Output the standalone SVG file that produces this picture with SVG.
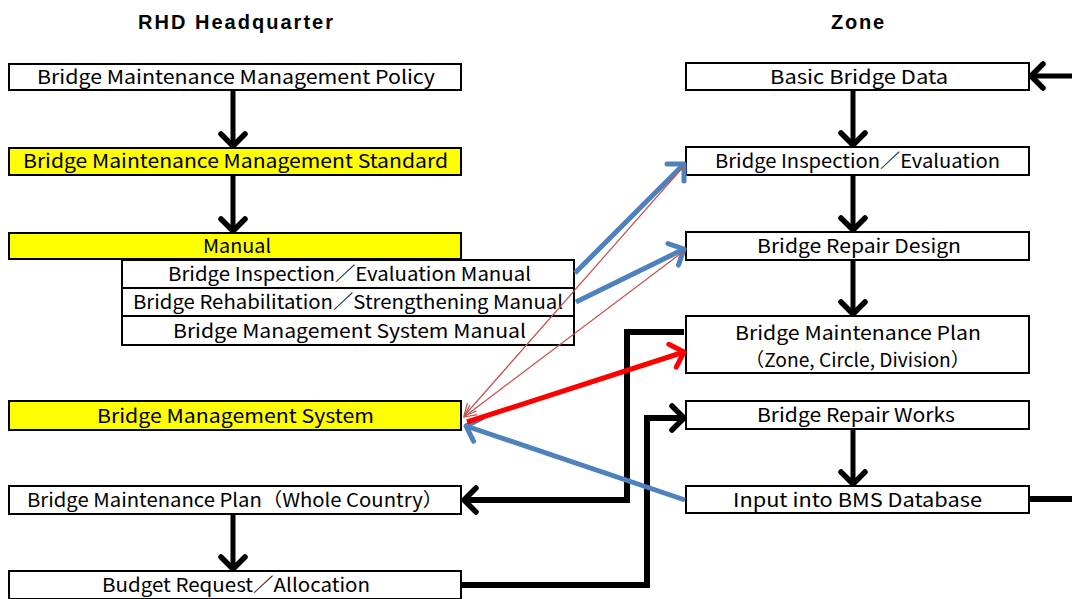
<svg xmlns="http://www.w3.org/2000/svg" width="1072" height="599" viewBox="0 0 1072 599">
<style>
.box{fill:#fff;stroke:#000;stroke-width:2}
.yel{fill:#ffff00;stroke:#000;stroke-width:2}
.t{font-family:"Noto Sans CJK JP","Liberation Sans",sans-serif;font-size:19px;fill:#000}
.h{font-family:"Liberation Sans",sans-serif;font-size:20px;font-weight:bold;fill:#000}
.blk{stroke:#000;stroke-width:6;fill:none}
.blu{stroke:#4f81bd;stroke-width:5;fill:none}
.red{stroke:#ff0000;stroke-width:5;fill:none}
.thin{stroke:#c0504d;stroke-width:1.2;fill:none}
</style>
<defs>
<marker id="ab" markerUnits="userSpaceOnUse" markerWidth="24" markerHeight="32" refX="16" refY="14" orient="auto" overflow="visible">
<path d="M4,2 L16,14 L4,26" fill="none" stroke="#000" stroke-width="5.5" stroke-linecap="round" stroke-linejoin="round"/>
</marker>
<marker id="au" markerUnits="userSpaceOnUse" markerWidth="24" markerHeight="32" refX="16" refY="14" orient="auto" overflow="visible">
<path d="M4,2 L16,14 L4,26" fill="none" stroke="#4f81bd" stroke-width="5" stroke-linecap="round" stroke-linejoin="round"/>
</marker>
<marker id="ar" markerUnits="userSpaceOnUse" markerWidth="24" markerHeight="32" refX="16" refY="14" orient="auto" overflow="visible">
<path d="M4,2 L16,14 L4,26" fill="none" stroke="#ff0000" stroke-width="5" stroke-linecap="round" stroke-linejoin="round"/>
</marker>
<marker id="at" markerUnits="userSpaceOnUse" markerWidth="16" markerHeight="16" refX="12" refY="6" orient="auto" overflow="visible">
<path d="M0,0 L12,6 L0,12" fill="none" stroke="#c0504d" stroke-width="1.2"/>
</marker>
</defs>

<text class="h" x="138" y="29" textLength="195" lengthAdjust="spacing">RHD Headquarter</text>
<text class="h" x="831" y="29" textLength="53" lengthAdjust="spacing">Zone</text>

<g id="policy"><rect class="box" x="9" y="64" width="452" height="26"/><text class="t" x="37" y="84" textLength="398" lengthAdjust="spacingAndGlyphs">Bridge Maintenance Management Policy</text></g>
<g id="standard"><rect class="yel" x="9" y="148" width="452" height="27"/><text class="t" x="23" y="168" textLength="425" lengthAdjust="spacingAndGlyphs">Bridge Maintenance Management Standard</text></g>
<g id="manual"><rect class="yel" x="9" y="233" width="452" height="26"/><text class="t" x="203" y="253" textLength="68" lengthAdjust="spacingAndGlyphs">Manual</text></g>
<g id="manual-inspection"><rect class="box" x="122" y="260" width="452" height="28"/><text class="t" x="168" y="281" textLength="363" lengthAdjust="spacingAndGlyphs">Bridge Inspection／Evaluation Manual</text></g>
<g id="manual-rehab"><rect class="box" x="122" y="288" width="452" height="28"/><text class="t" x="133" y="309" textLength="430" lengthAdjust="spacingAndGlyphs">Bridge Rehabilitation／Strengthening Manual</text></g>
<g id="manual-bms"><rect class="box" x="122" y="316" width="452" height="29"/><text class="t" x="173" y="338" textLength="353" lengthAdjust="spacingAndGlyphs">Bridge Management System Manual</text></g>
<g id="bms"><rect class="yel" x="9" y="401" width="452" height="29"/><text class="t" x="97" y="423" textLength="277" lengthAdjust="spacingAndGlyphs">Bridge Management System</text></g>
<g id="plan-country"><rect class="box" x="9" y="486" width="452" height="28"/><text class="t" x="27" y="507" textLength="416" lengthAdjust="spacingAndGlyphs">Bridge Maintenance Plan（Whole Country）</text></g>
<g id="budget"><rect class="box" x="9" y="571" width="452" height="28"/><text class="t" x="102" y="592" textLength="268" lengthAdjust="spacingAndGlyphs">Budget Request／Allocation</text></g>

<g id="basic-data"><rect class="box" x="686" y="63" width="343" height="27"/><text class="t" x="770" y="84" textLength="178" lengthAdjust="spacingAndGlyphs">Basic Bridge Data</text></g>
<g id="inspection"><rect class="box" x="686" y="147" width="343" height="28"/><text class="t" x="715" y="168" textLength="285" lengthAdjust="spacingAndGlyphs">Bridge Inspection／Evaluation</text></g>
<g id="repair-design"><rect class="box" x="686" y="232" width="343" height="28"/><text class="t" x="757" y="253" textLength="204" lengthAdjust="spacingAndGlyphs">Bridge Repair Design</text></g>
<g id="plan-zone"><rect class="box" x="686" y="316" width="343" height="57"/><text class="t" x="735" y="340" textLength="246" lengthAdjust="spacingAndGlyphs">Bridge Maintenance Plan</text><text class="t" x="745" y="367" textLength="225" lengthAdjust="spacingAndGlyphs">（Zone, Circle, Division）</text></g>
<g id="repair-works"><rect class="box" x="686" y="401" width="343" height="28"/><text class="t" x="757" y="422" textLength="198" lengthAdjust="spacingAndGlyphs">Bridge Repair Works</text></g>
<g id="input-bms"><rect class="box" x="686" y="486" width="343" height="27"/><text class="t" x="733" y="507" textLength="249" lengthAdjust="spacingAndGlyphs">Input into BMS Database</text></g>

<g id="connectors">
<line class="blk" style="stroke-width:5" x1="233" y1="91" x2="233" y2="146" marker-end="url(#ab)"/>
<line class="blk" style="stroke-width:5" x1="233" y1="176" x2="233" y2="231" marker-end="url(#ab)"/>
<line class="blk" style="stroke-width:5" x1="233" y1="515" x2="233" y2="569" marker-end="url(#ab)"/>
<line class="blk" style="stroke-width:5" x1="853" y1="91" x2="853" y2="145" marker-end="url(#ab)"/>
<line class="blk" style="stroke-width:5" x1="853" y1="176" x2="853" y2="230" marker-end="url(#ab)"/>
<line class="blk" style="stroke-width:5" x1="853" y1="261" x2="853" y2="314" marker-end="url(#ab)"/>
<line class="blk" style="stroke-width:5" x1="853" y1="430" x2="853" y2="484" marker-end="url(#ab)"/>
<line class="blk" style="stroke-width:5" x1="1072" y1="76" x2="1031" y2="76" marker-end="url(#ab)"/>
<line class="blk" x1="1029" y1="499" x2="1072" y2="499"/>
<polyline class="blk" points="684,332 627,332 627,500 464,500" marker-end="url(#ab)"/>
<polyline class="blk" points="462,585 647,585 647,418 684,418" marker-end="url(#ab)"/>
<line class="blu" x1="575" y1="273" x2="684" y2="164" marker-end="url(#au)"/>
<line class="blu" x1="576" y1="302" x2="684" y2="249" marker-end="url(#au)"/>
<line class="blu" x1="685" y1="500" x2="466" y2="426" marker-end="url(#au)"/>
<line class="red" x1="467" y1="422" x2="684" y2="352" marker-end="url(#ar)"/>
<line class="thin" x1="684" y1="166" x2="464" y2="416" marker-end="url(#at)"/>
<line class="thin" x1="684" y1="251" x2="464" y2="417" marker-end="url(#at)"/>
</g>
</svg>
